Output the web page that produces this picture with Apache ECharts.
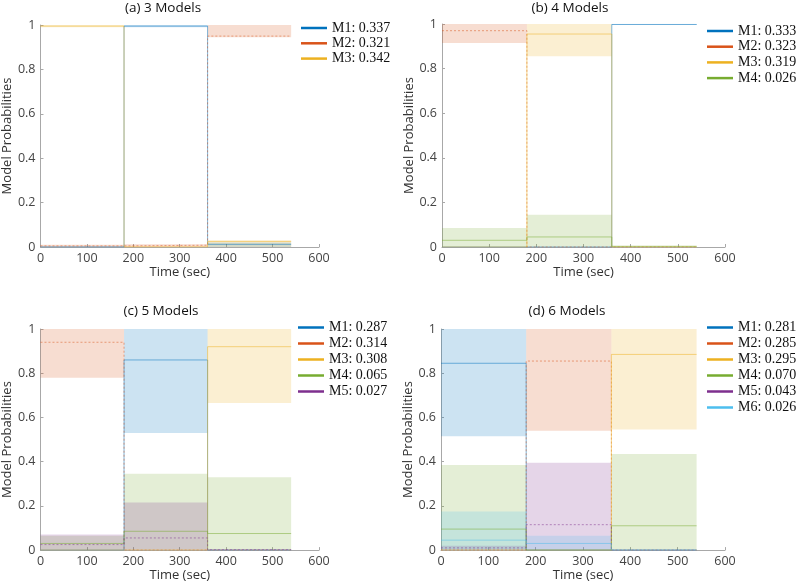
<!DOCTYPE html>
<html>
<head>
<meta charset="utf-8">
<script src="https://cdn.jsdelivr.net/npm/echarts@6/dist/echarts.min.js"></script>
<style>html,body{margin:0;padding:0;background:#fff}#c{width:800px;height:583px}</style>
</head>
<body>
<div id="c"></div>
<script>
// ---- Data ----
const segEdges = [0, 180, 360, 540];
const xTicks = [0, 100, 200, 300, 400, 500, 600];
const yTicks = [0, 0.2, 0.4, 0.6, 0.8, 1];
const modelNames = ['M1', 'M2', 'M3', 'M4', 'M5', 'M6'];
const panelTitles = ['(a) 3 Models', '(b) 4 Models', '(c) 5 Models', '(d) 6 Models'];

// Panel (a)
const aShares = ['0.337', '0.321', '0.342'];
const aMean = [[0.0, 0.995, 0.012], [0.005, 0.008, 0.95], [0.995, 0.0, 0.025]];
const aLow  = [[0.0, 0.99, 0.0], [0.0, 0.0, 0.945], [0.99, 0.0, 0.0]];
const aHigh = [[0.003, 1.0, 0.02], [0.01, 0.012, 1.0], [1.0, 0.003, 0.03]];

// Panel (b)
const bShares = ['0.333', '0.323', '0.319', '0.026'];
const bMean = [[0.0, 0.0, 0.998], [0.97, 0.0, 0.0], [0.0, 0.955, 0.0], [0.03, 0.045, 0.003]];
const bLow  = [[0.0, 0.0, 0.995], [0.915, 0.0, 0.0], [0.0, 0.855, 0.0], [0.0, 0.0, 0.0]];
const bHigh = [[0.0, 0.0, 1.0], [1.0, 0.0, 0.0], [0.0, 1.0, 0.0], [0.085, 0.145, 0.006]];

// Panel (c)
const cShares = ['0.287', '0.314', '0.308', '0.065', '0.027'];
const cMean = [[0.0, 0.86, 0.0], [0.94, 0.0, 0.0], [0.0, 0.0, 0.92], [0.03, 0.085, 0.075], [0.025, 0.055, 0.002]];
const cLow  = [[0.0, 0.53, 0.0], [0.78, 0.0, 0.0], [0.0, 0.0, 0.665], [0.0, 0.0, 0.0], [0.0, 0.0, 0.0]];
const cHigh = [[0.0, 1.0, 0.0], [1.0, 0.0, 0.0], [0.0, 0.0, 1.0], [0.065, 0.345, 0.33], [0.07, 0.215, 0.004]];

// Panel (d)
const dShares = ['0.281', '0.285', '0.295', '0.070', '0.043', '0.026'];
const dMean = [[0.845, 0.0, 0.0], [0.0, 0.855, 0.0], [0.0, 0.0, 0.885], [0.095, 0.0, 0.11], [0.01, 0.115, 0.0], [0.045, 0.03, 0.0]];
const dLow  = [[0.515, 0.0, 0.0], [0.0, 0.54, 0.0], [0.0, 0.0, 0.545], [0.0, 0.0, 0.0], [0.0, 0.0, 0.0], [0.0, 0.0, 0.0]];
const dHigh = [[1.0, 0.0, 0.0], [0.0, 1.0, 0.0], [0.0, 0.0, 1.0], [0.385, 0.0, 0.435], [0.02, 0.395, 0.0], [0.175, 0.065, 0.0]];

// ---- Styles ----
const colors = ['#0072BD', '#D95319', '#EDB120', '#77AC30', '#7E2F8E', '#4DBEEE'];
const dashedModels = [1, 4];
function rgba(hex, a) {
  const n = parseInt(hex.slice(1), 16);
  return 'rgba(' + ((n >> 16) & 255) + ',' + ((n >> 8) & 255) + ',' + (n & 255) + ',' + a + ')';
}

const panels = [
  { shares: aShares, mean: aMean, low: aLow, high: aHigh, grid: { left: 36, top: 25, width: 283, height: 222 }, legend: { left: 301, top: 21, gap: 1.3 }, title: [163, 8] },
  { shares: bShares, mean: bMean, low: bLow, high: bHigh, grid: { left: 442, top: 24, width: 283, height: 223 }, legend: { left: 707, top: 24, gap: 1.7 }, title: [570, 8] },
  { shares: cShares, mean: cMean, low: cLow, high: cHigh, grid: { left: 36, top: 329, width: 283, height: 223 }, legend: { left: 298, top: 320.5, gap: 2 }, title: [161, 311] },
  { shares: dShares, mean: dMean, low: dLow, high: dHigh, grid: { left: 441, top: 329, width: 284, height: 223 }, legend: { left: 707, top: 320.5, gap: 2 }, title: [567, 311] }
];

const axisFont = 'Open Sans';
const grids = [], xAxes = [], yAxes = [], legends = [], series = [], graphics = [];

panels.forEach(function (p, pi) {
  grids.push(Object.assign({ containLabel: false }, p.grid));
  xAxes.push({
    type: 'value', gridIndex: pi, min: xTicks[0], max: xTicks[xTicks.length - 1], interval: xTicks[1] - xTicks[0],
    name: 'Time (sec)', nameLocation: 'middle', nameGap: 18,
    nameTextStyle: { color: '#333', fontSize: 13, fontFamily: axisFont },
    axisLine: { show: true, lineStyle: { color: '#a8a8a8', width: 1 } },
    axisTick: { show: true, inside: true, length: 3, lineStyle: { color: '#a8a8a8' } },
    axisLabel: { color: '#444', fontSize: 12.5, fontFamily: axisFont, margin: 5 },
    splitLine: { show: false }
  });
  yAxes.push({
    type: 'value', gridIndex: pi, min: yTicks[0], max: yTicks[yTicks.length - 1], interval: yTicks[1] - yTicks[0],
    name: 'Model Probabilities', nameLocation: 'middle', nameGap: 22,
    nameTextStyle: { color: '#333', fontSize: 13, fontFamily: axisFont },
    axisLine: { show: true, lineStyle: { color: '#a8a8a8', width: 1 } },
    axisTick: { show: true, inside: true, length: 3, lineStyle: { color: '#a8a8a8' } },
    axisLabel: { color: '#444', fontSize: 12.5, fontFamily: axisFont, margin: 5 },
    splitLine: { show: false }
  });
  const names = [];
  p.mean.forEach(function (m, mi) {
    const name = modelNames[mi] + ': ' + p.shares[mi];
    names.push(name);
    const data = [];
    const areas = [];
    for (let s = 0; s < m.length; s++) {
      data.push([segEdges[s], m[s]]);
      data.push([segEdges[s + 1], m[s]]);
      if (p.high[mi][s] - p.low[mi][s] > 0) {
        areas.push([{ coord: [segEdges[s], p.low[mi][s]] }, { coord: [segEdges[s + 1], p.high[mi][s]] }]);
      }
    }
    series.push({
      type: 'line', name: name, xAxisIndex: pi, yAxisIndex: pi, data: data,
      symbol: 'none', showSymbol: false, animation: false,
      color: colors[mi],
      itemStyle: { color: colors[mi] },
      lineStyle: { color: colors[mi], width: 1, opacity: 0.5, type: dashedModels.indexOf(mi) >= 0 ? [2, 2] : 'solid' },
      markArea: { silent: true, itemStyle: { color: rgba(colors[mi], 0.2) }, data: areas },
      z: 3
    });
  });
  legends.push({
    data: names, orient: 'vertical', left: p.legend.left, top: p.legend.top, padding: 0,
    icon: 'rect', itemWidth: 26, itemHeight: 2.5, itemGap: p.legend.gap,
    selectedMode: false,
    textStyle: { fontFamily: 'Liberation Serif', fontSize: 14, color: '#111', lineHeight: 14 }
  });
  graphics.push({
    type: 'text', x: p.title[0], y: p.title[1],
    style: { text: panelTitles[pi], textAlign: 'center', textVerticalAlign: 'middle', fontFamily: axisFont, fontSize: 13.5, fill: '#111' }
  });
});

const chart = echarts.init(document.getElementById('c'), null, { renderer: 'canvas' });
chart.setOption({
  animation: false,
  backgroundColor: '#fff',
  grid: grids, xAxis: xAxes, yAxis: yAxes, legend: legends, series: series, graphic: graphics
});
</script>
</body>
</html>
